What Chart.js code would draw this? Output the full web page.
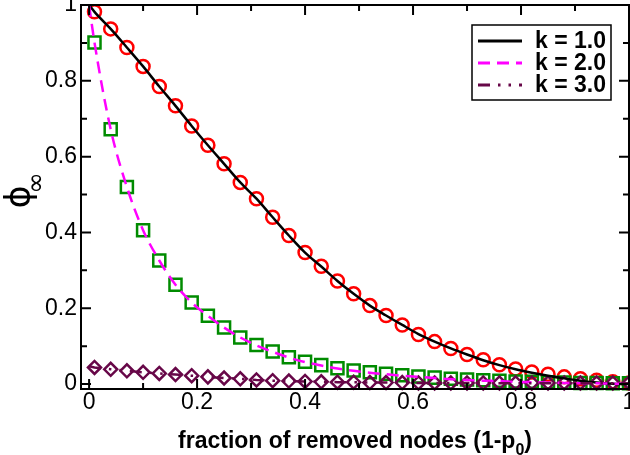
<!DOCTYPE html>
<html><head><meta charset="utf-8">
<script src="https://cdn.jsdelivr.net/npm/chart.js@4.4.0/dist/chart.umd.min.js"></script>
<style>html,body{margin:0;padding:0;background:#fff;}#wrap{width:630px;height:455px;}</style>
</head><body><div id="wrap"><canvas id="c" width="630" height="455"></canvas></div>
<script>
// ---- data ----
const simX = [0.01,0.04,0.07,0.10,0.13,0.16,0.19,0.22,0.25,0.28,0.31,0.34,0.37,0.40,0.43,0.46,0.49,0.52,0.55,0.58,0.61,0.64,0.67,0.70,0.73,0.76,0.79,0.82,0.85,0.88,0.91,0.94,0.97,1.00];
const theoryX = [0.00,0.01,0.04,0.07,0.10,0.13,0.16,0.19,0.22,0.25,0.28,0.31,0.34,0.37,0.40,0.43,0.46,0.49,0.52,0.55,0.58,0.61,0.64,0.67,0.70,0.73,0.76,0.79,0.82,0.85,0.88,0.91,0.94,0.97,1.00];

const k1Sim = [0.982,0.937,0.888,0.838,0.785,0.734,0.681,0.630,0.581,0.532,0.489,0.440,0.392,0.347,0.311,0.272,0.238,0.207,0.181,0.156,0.131,0.112,0.094,0.078,0.064,0.051,0.040,0.032,0.026,0.019,0.014,0.010,0.006,0.003];
const k2Sim = [0.901,0.672,0.520,0.406,0.326,0.262,0.215,0.180,0.149,0.123,0.103,0.086,0.071,0.059,0.050,0.042,0.036,0.031,0.027,0.023,0.020,0.017,0.014,0.012,0.010,0.009,0.007,0.006,0.005,0.004,0.003,0.003,0.002,0.002];
const k3Sim = [0.044,0.039,0.035,0.031,0.028,0.025,0.022,0.019,0.016,0.014,0.011,0.009,0.008,0.007,0.006,0.005,0.005,0.004,0.004,0.004,0.003,0.003,0.003,0.003,0.003,0.003,0.003,0.003,0.003,0.003,0.003,0.003,0.003,0.003];

const k1Theory = [1.000,0.982,0.937,0.888,0.838,0.785,0.734,0.681,0.630,0.581,0.532,0.489,0.440,0.392,0.347,0.310,0.272,0.238,0.207,0.181,0.156,0.132,0.112,0.094,0.078,0.063,0.050,0.039,0.030,0.022,0.015,0.009,0.004,0.001,0.000];
const k2Theory = [1.000,0.901,0.672,0.520,0.406,0.326,0.262,0.215,0.180,0.149,0.123,0.102,0.085,0.070,0.058,0.049,0.041,0.035,0.030,0.026,0.022,0.019,0.016,0.013,0.011,0.009,0.008,0.006,0.005,0.004,0.003,0.002,0.002,0.001,0.001];
const k3Theory = [0.047,0.044,0.039,0.035,0.031,0.028,0.025,0.022,0.019,0.016,0.014,0.011,0.009,0.008,0.007,0.006,0.005,0.005,0.004,0.004,0.004,0.003,0.003,0.003,0.003,0.003,0.002,0.002,0.002,0.002,0.002,0.002,0.002,0.002,0.002];

const seriesLabels = ['k = 1.0','k = 2.0','k = 3.0'];
const xTickValues = [0,0.2,0.4,0.6,0.8,1];
const yTickValues = [0,0.2,0.4,0.6,0.8,1];
const xTickLabels = ['0','0.2','0.4','0.6','0.8','1'];
const yTickLabels = ['0','0.2','0.4','0.6','0.8','1'];
const xTitleMain = 'fraction of removed nodes (1-p';
const xTitleSub = '0';
const xTitleEnd = ')';
const yTitleMain = '\u03D5';
const yTitleSub = '\u221E';

const pts = (xs, ys) => xs.map((x, i) => ({x: x, y: ys[i]}));

const BLACK = '#000000', RED = '#ff0000', MAGENTA = '#ff00ff', GREEN = '#008b00', MAROON = '#670748';

const datasets = [
  {label: seriesLabels[2], data: pts(theoryX, k3Theory), showLine: true, borderColor: MAROON, borderWidth: 2.5, borderDash: [12,8,2.5,8,2.5,8], pointRadius: 0, isTheory: true},
  {label: seriesLabels[1], data: pts(theoryX, k2Theory), showLine: true, borderColor: MAGENTA, borderWidth: 2.5, borderDash: [12,7], pointRadius: 0, isTheory: true, cubicInterpolationMode: 'monotone'},
  {label: seriesLabels[0], data: pts(theoryX, k1Theory), showLine: true, borderColor: BLACK, borderWidth: 2.5, pointRadius: 0, isTheory: true, cubicInterpolationMode: 'monotone'},
  {label: 'sim3', data: pts(simX, k3Sim), showLine: false, pointStyle: 'rectRot', pointRadius: 6.5, pointBorderWidth: 2.5, pointBorderColor: MAROON, pointBackgroundColor: 'rgba(0,0,0,0)', clip: false},
  {label: 'sim2', data: pts(simX, k2Sim), showLine: false, pointStyle: 'rect', pointRadius: 8.5, pointBorderWidth: 2.5, pointBorderColor: GREEN, pointBackgroundColor: 'rgba(0,0,0,0)', clip: false},
  {label: 'sim1', data: pts(simX, k1Sim), showLine: false, pointStyle: 'circle', pointRadius: 6.5, pointBorderWidth: 2.5, pointBorderColor: RED, pointBackgroundColor: 'rgba(0,0,0,0)', clip: false}
];

const decorPlugin = {
  id: 'decor',
  afterDatasetsDraw(chart) {
    const ctx = chart.ctx, a = chart.chartArea;
    const xs = chart.scales.x, ys = chart.scales.y;
    ctx.save();
    ctx.strokeStyle = '#000';
    ctx.lineWidth = 2;
    ctx.lineCap = 'butt';
    const majX = xs.ticks.map(t => t.value);
    const majY = ys.ticks.map(t => t.value);
    const minX = majX.slice(0, -1).map((v, i) => (v + majX[i + 1]) / 2);
    const minY = majY.slice(0, -1).map((v, i) => (v + majY[i + 1]) / 2);
    ctx.beginPath();
    const drawX = (vals, len) => vals.forEach(v => { const p = xs.getPixelForValue(v);
      ctx.moveTo(p, a.bottom); ctx.lineTo(p, a.bottom - len); ctx.moveTo(p, a.top); ctx.lineTo(p, a.top + len); });
    const drawY = (vals, len) => vals.forEach(v => { const p = ys.getPixelForValue(v);
      ctx.moveTo(a.left, p); ctx.lineTo(a.left + len, p); ctx.moveTo(a.right, p); ctx.lineTo(a.right - len, p); });
    drawX(majX, 10); drawX(minX, 6); drawY(majY, 10); drawY(minY, 6);
    ctx.stroke();
    ctx.strokeRect(a.left, a.top, a.right - a.left, a.bottom - a.top);

    // legend box
    const bx = a.right - 157, by = a.top + 20, bw = 139, bh = 75;
    ctx.fillStyle = '#fff';
    ctx.fillRect(bx, by, bw, bh);
    ctx.lineWidth = 1.5;
    ctx.strokeRect(bx, by, bw, bh);
    const theory = chart.data.datasets.filter(d => d.isTheory).slice().reverse();
    ctx.font = 'bold 23px "Liberation Sans", Arial, sans-serif';
    ctx.textBaseline = 'middle';
    ctx.textAlign = 'left';
    theory.forEach((d, i) => {
      const ry = by + 16 + i * 22;
      ctx.beginPath();
      ctx.setLineDash(d.borderDash || []);
      ctx.lineWidth = 3;
      ctx.strokeStyle = d.borderColor;
      ctx.moveTo(bx + 6, ry); ctx.lineTo(bx + 50, ry);
      ctx.stroke();
      ctx.setLineDash([]);
      ctx.fillStyle = '#000';
      ctx.fillText(d.label, bx + 63, ry + 1);
    });

    // x title with subscript
    ctx.fillStyle = '#000';
    ctx.textBaseline = 'alphabetic';
    const fMain = 'bold 23px "Liberation Sans", Arial, sans-serif';
    const fSub = 'bold 16px "Liberation Sans", Arial, sans-serif';
    ctx.font = fMain; const w1 = ctx.measureText(xTitleMain).width; const w3 = ctx.measureText(xTitleEnd).width;
    ctx.font = fSub; const w2 = ctx.measureText(xTitleSub).width;
    const cx = (a.left + a.right) / 2;
    let tx = cx - (w1 + w2 + w3) / 2;
    const base = 448;
    ctx.font = fMain; ctx.fillText(xTitleMain, tx, base); tx += w1;
    ctx.font = fSub; ctx.fillText(xTitleSub, tx, base + 7); tx += w2;
    ctx.font = fMain; ctx.fillText(xTitleEnd, tx, base);

    // y title (rotated) with subscript
    ctx.save();
    ctx.translate(21, (a.top + a.bottom) / 2);
    ctx.rotate(-Math.PI / 2);
    ctx.textAlign = 'center';
    ctx.textBaseline = 'middle';
    ctx.font = '35px "DejaVu Sans", sans-serif';
    ctx.fillText(yTitleMain, 0, 0);
    ctx.font = '26px "DejaVu Sans", sans-serif';
    ctx.fillText(yTitleSub, 14, 16);
    ctx.restore();
    ctx.restore();
  }
};

new Chart(document.getElementById('c'), {
  type: 'scatter',
  data: {datasets: datasets},
  options: {
    responsive: false, animation: false, devicePixelRatio: 1,
    layout: {autoPadding: false, padding: {top: 5, right: 1, left: 0, bottom: 0}},
    plugins: {legend: {display: false}, tooltip: {enabled: false}},
    elements: {line: {tension: 0}},
    scales: {
      x: {
        type: 'linear', min: -0.015, max: 1.0,
        grid: {display: false, drawTicks: false}, border: {display: false},
        ticks: {color: '#000', font: {family: '"Liberation Sans", Arial, sans-serif', size: 23}, padding: 0, maxRotation: 0, autoSkip: false,
          callback: (v, i) => xTickLabels[i]},
        afterBuildTicks: s => { s.ticks = xTickValues.map(v => ({value: v})); },
        afterFit: s => { s.height = 66; s.paddingLeft = 0; s.paddingRight = 0; }
      },
      y: {
        type: 'linear', min: -0.013, max: 1.0,
        grid: {display: false, drawTicks: false}, border: {display: false},
        ticks: {color: '#000', font: {family: '"Liberation Sans", Arial, sans-serif', size: 23}, padding: 4, autoSkip: false,
          callback: (v, i) => yTickLabels[i]},
        afterBuildTicks: s => { s.ticks = yTickValues.map(v => ({value: v})); },
        afterFit: s => { s.width = 81; s.paddingTop = 0; s.paddingBottom = 0; }
      }
    }
  },
  plugins: [decorPlugin]
});
</script>
</body></html>
